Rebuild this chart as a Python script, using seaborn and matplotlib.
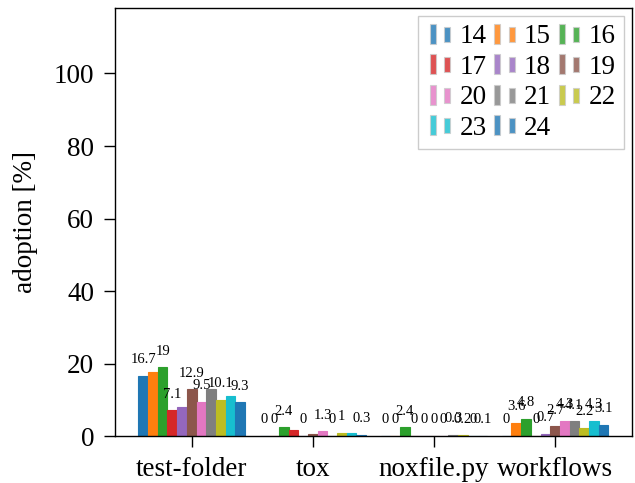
import numpy as np
import pandas as pd
import matplotlib
matplotlib.use("Agg")
import matplotlib.pyplot as plt
import seaborn as sns
from matplotlib.lines import Line2D
from matplotlib.legend_handler import HandlerTuple

# adoption per tool, one value per year (2014 .. 2024)
tools = ['test-folder', 'tox', 'noxfile.py', 'workflows']
years = ['14', '15', '16', '17', '18', '19', '20', '21', '22', '23', '24']

test_folder = [16.7, 17.7, 19.0, 7.1, 7.9, 12.9, 9.5, 13.1, 10.1, 11.1, 9.3]
tox = [0, 0, 2.4, 1.7, 0, 0.6, 1.3, 0, 1.0, 1.0, 0.3]
noxfile = [0, 0, 2.4, 0, 0, 0, 0, 0.3, 0.2, 0, 0.1]
workflows = [0, 3.6, 4.8, 0, 0.7, 2.7, 4.3, 4.1, 2.2, 4.3, 3.1]

# value labels that show on the chart ('' = none)
test_folder_labels = ['16.7', '', '19', '7.1', '', '12.9', '9.5', '', '10.1', '', '9.3']
tox_labels = ['0', '0', '2.4', '', '0', '', '1.3', '0', '1', '', '0.3']
noxfile_labels = ['0', '0', '2.4', '0', '0', '0', '0', '0.3', '0.2', '0', '0.1']
workflows_labels = ['0', '3.6', '4.8', '0', '0.7', '2.7', '4.3', '4.1', '2.2', '4.3', '3.1']

values = [test_folder, tox, noxfile, workflows]
labels = [test_folder_labels, tox_labels, noxfile_labels, workflows_labels]

df = pd.DataFrame({
    'tool': np.repeat(tools, len(years)),
    'year': years * len(tools),
    'adoption': np.concatenate(values),
})

sns.set_style('ticks', {'axes.edgecolor': 'black', 'xtick.color': 'black',
                        'ytick.color': 'black', 'text.color': 'black',
                        'axes.labelcolor': 'black'})
plt.rcParams['font.family'] = ['Liberation Serif', 'DejaVu Serif']

palette = sns.color_palette('tab10', len(years))

fig, ax = plt.subplots(figsize=(6.35, 4.83), dpi=100)
fig.subplots_adjust(left=0.181, right=0.995, top=0.983, bottom=0.097)

sns.barplot(data=df, x='tool', y='adoption', hue='year', order=tools,
            hue_order=years, palette=palette, saturation=1, width=0.88,
            legend=False, ax=ax)

# zero bars still show up as thin lines
for p in ax.patches:
    p.set_edgecolor(p.get_facecolor())
    p.set_linewidth(0.8)

for j, cont in enumerate(ax.containers):
    ax.bar_label(cont, labels=[labels[i][j] for i in range(len(tools))],
                 padding=7, fontsize=10.5)

# plain matplotlib margins around the bar groups
ax.set_xlim(-0.44 - 0.194, len(tools) - 1 + 0.44 + 0.194)
ax.set_ylim(0, 118)
ax.set_xlabel('')
ax.set_ylabel('adoption [%]', fontsize=19.5, labelpad=11)
ax.tick_params(axis='both', labelsize=19.5, length=8, width=1, pad=7)
for s in ax.spines.values():
    s.set_linewidth(1)

big_rect = [(-0.3, -1), (0.3, -1), (0.3, 1), (-0.3, 1), (-0.3, -1)]
small_rect = [(-0.4, -1), (0.4, -1), (0.4, 1), (-0.4, 1), (-0.4, -1)]
handles = []
for c in palette:
    big = Line2D([], [], marker=big_rect, linestyle='none', markersize=14.4,
                 markerfacecolor=c, markeredgecolor='#cccccc', markeredgewidth=0.8, alpha=0.8)
    small = Line2D([], [], marker=small_rect, linestyle='none', markersize=10.8,
                   markerfacecolor=c, markeredgecolor='#cccccc', markeredgewidth=0.8, alpha=0.8)
    handles.append((big, small))

# legend fills column-wise, reorder so the years read row by row
order = [0, 3, 6, 9, 1, 4, 7, 10, 2, 5, 8]
ax.legend([handles[i] for i in order], [years[i] for i in order],
          handler_map={tuple: HandlerTuple(ndivide=2, pad=0)},
          loc='upper right', ncol=3, fontsize=19.5, handlelength=1.05,
          handletextpad=0.2, columnspacing=0.12, labelspacing=0.2,
          borderpad=0.3, borderaxespad=0.3, fancybox=False,
          edgecolor='#cccccc', framealpha=1)

fig.savefig('out.png', dpi=100)
